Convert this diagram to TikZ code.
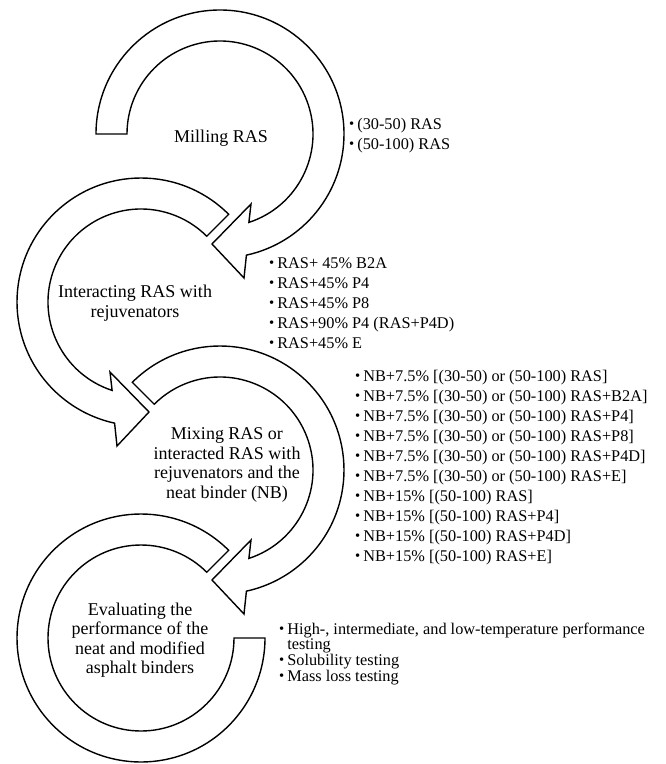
\documentclass[tikz,border=0pt]{standalone}
\usepackage{fontspec}
\setmainfont{Liberation Serif}
\usepackage{graphicx}
\newcommand{\bul}{\raisebox{0.1ex}{\scalebox{0.9}{\textbullet}}}
\tikzset{
	ringarrow/.style={draw=black, fill=white, line width=1.4pt, line join=miter},
	steplabel/.style={align=center, font=\fontsize{18}{19.5}\selectfont},
	itemlist/.style={anchor=west, inner sep=0pt, font=\fontsize{16.3}{20}\selectfont}
}
\begin{document}
\begin{tikzpicture}[x=1pt, y=1pt]
			\useasboundingbox (0,0) rectangle (665,-764);
			
			\coordinate (c1) at (220,-134);
			\coordinate (c2) at (141,-302);
			\coordinate (c3) at (220,-470);
			\coordinate (c4) at (141,-638);
			
			% ring arrows
			\begin{scope}[shift={(c1)}]
				\draw[ringarrow] (180:124) arc[start angle=180, end angle=-77.7, radius=124pt]
					-- (24,-144) -- (-8,-110) -- (31,-70)
					-- (-71.9:93) arc[start angle=-71.9, end angle=180, radius=93pt] -- cycle;
			\end{scope}
			\begin{scope}[shift={(c2)}]
				\draw[ringarrow] (45:124) arc[start angle=45, end angle=257.7, radius=124pt]
					-- (-24,-144) -- (8,-110) -- (-31,-70)
					-- (251.9:93) arc[start angle=251.9, end angle=45, radius=93pt] -- cycle;
			\end{scope}
			\begin{scope}[shift={(c3)}]
				\draw[ringarrow] (135:124) arc[start angle=135, end angle=-77.7, radius=124pt]
					-- (24,-144) -- (-8,-110) -- (31,-70)
					-- (-71.9:93) arc[start angle=-71.9, end angle=135, radius=93pt] -- cycle;
			\end{scope}
			\begin{scope}[shift={(c4)}]
				\draw[ringarrow] (45:124) arc[start angle=45, end angle=360, radius=124pt]
					-- (0:93) arc[start angle=360, end angle=45, radius=93pt] -- cycle;
			\end{scope}
			
			\node[steplabel] (milling)  at (221,-138) {Milling RAS};
			\node[steplabel] (interact) at (135,-303) {Interacting RAS with\\rejuvenators};
			\node[steplabel] (mixing)   at (227,-465) {Mixing RAS or\\interacted RAS with\\rejuvenators and the\\neat binder (NB)};
			\node[steplabel] (evaluate) at (140,-640) {Evaluating the\\performance of the\\neat and modified\\asphalt binders};
			
			\node[itemlist] (list1) at (349,-135) {\begin{tabular}{@{}l@{\hspace{3pt}}l@{}}
				\bul & (30-50) RAS\\
				\bul & (50-100) RAS
			\end{tabular}};
			\node[itemlist] (list2) at (269,-304) {\begin{tabular}{@{}l@{\hspace{3pt}}l@{}}
				\bul & RAS+ 45\% B2A\\
				\bul & RAS+45\% P4\\
				\bul & RAS+45\% P8\\
				\bul & RAS+90\% P4 (RAS+P4D)\\
				\bul & RAS+45\% E
			\end{tabular}};
			\node[itemlist] (list3) at (355,-467) {\begin{tabular}{@{}l@{\hspace{3pt}}l@{}}
				\bul & NB+7.5\% [(30-50) or (50-100) RAS]\\
				\bul & NB+7.5\% [(30-50) or (50-100) RAS+B2A]\\
				\bul & NB+7.5\% [(30-50) or (50-100) RAS+P4]\\
				\bul & NB+7.5\% [(30-50) or (50-100) RAS+P8]\\
				\bul & NB+7.5\% [(30-50) or (50-100) RAS+P4D]\\
				\bul & NB+7.5\% [(30-50) or (50-100) RAS+E]\\
				\bul & NB+15\% [(50-100) RAS]\\
				\bul & NB+15\% [(50-100) RAS+P4]\\
				\bul & NB+15\% [(50-100) RAS+P4D]\\
				\bul & NB+15\% [(50-100) RAS+E]
			\end{tabular}};
			\node[itemlist, font=\fontsize{16.3}{15}\selectfont] (list4) at (279,-654.5) {\begin{tabular}{@{}l@{\hspace{3pt}}l@{}}
				\bul & High-, intermediate, and low-temperature performance\\
				     & testing\\
				\bul & Solubility testing\\
				\bul & Mass loss testing
			\end{tabular}};
		\end{tikzpicture}
\end{document}
